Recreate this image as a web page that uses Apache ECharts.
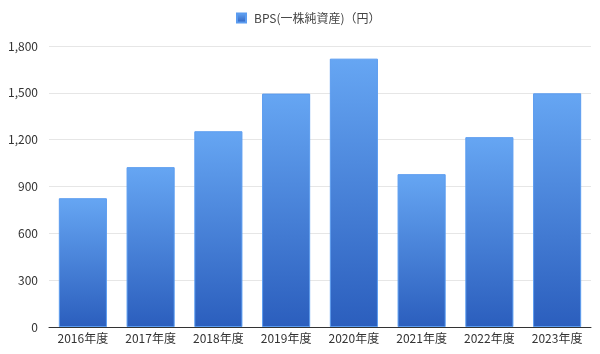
<!DOCTYPE html>
<html>
<head>
<meta charset="utf-8">
<script src="https://cdn.jsdelivr.net/npm/echarts@6/dist/echarts.min.js"></script>
<style>
  html, body { margin: 0; padding: 0; background: #fff; }
  #chart { width: 600px; height: 354px; }
</style>
</head>
<body>
<div id="chart"></div>
<script>
// 年度とBPS
const years = ['2016年度', '2017年度', '2018年度', '2019年度', '2020年度', '2021年度', '2022年度', '2023年度']
const bpsValues = [825, 1024, 1254, 1495, 1719, 979, 1216, 1497]
const seriesName = 'BPS(一株純資産)（円）'

const fontFamily = '"Noto Sans CJK JP", "Noto Sans", sans-serif'

const barGradient = new echarts.graphic.LinearGradient(0, 0, 0, 1, [
  { offset: 0, color: '#66a6f3' },
  { offset: 1, color: '#2b5ebd' }
])

const chart = echarts.init(document.getElementById('chart'))

chart.setOption({
  animation: false,
  textStyle: { fontFamily },
  legend: {
    top: 7,
    left: 231,
    itemWidth: 9,
    itemHeight: 9,
    icon: 'rect',
    textStyle: { fontSize: 12, color: '#444', fontFamily, padding: [0, 0, 0, 3] },
    data: [seriesName]
  },
  grid: { left: 49, right: 9, top: 46, bottom: 27 },
  xAxis: {
    type: 'category',
    data: years,
    axisTick: { show: false },
    axisLine: { lineStyle: { color: '#333', width: 1 } },
    axisLabel: { color: '#333', fontSize: 12, margin: 5, fontFamily }
  },
  yAxis: {
    type: 'value',
    min: 0,
    max: 1800,
    interval: 300,
    axisLine: { show: false },
    axisTick: { show: false },
    splitLine: { lineStyle: { color: '#e6e6e6' } },
    axisLabel: {
      color: '#333',
      fontSize: 12,
      margin: 11,
      fontFamily,
      formatter: v => v.toLocaleString('en-US')
    }
  },
  series: [
    {
      name: seriesName,
      type: 'bar',
      data: bpsValues,
      barWidth: '71%',
      itemStyle: {
        color: barGradient,
        borderColor: '#5b9cf0',
        borderWidth: 1
      }
    }
  ]
})
</script>
</body>
</html>
